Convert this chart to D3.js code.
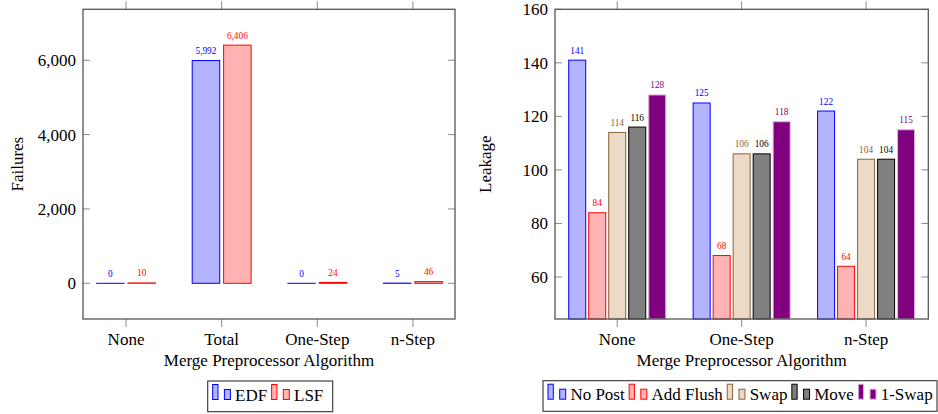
<!DOCTYPE html>
<html>
<head>
<meta charset="utf-8">
<script src="https://cdn.jsdelivr.net/npm/d3@7"></script>
<style>
  body { margin: 0; background: #fff; }
  svg text { font-family: "Liberation Serif", "Times New Roman", serif; }
</style>
</head>
<body>
<svg id="chart" width="938" height="414"></svg>
<script>
// Failures chart data
const failCategories = ["None", "Total", "One-Step", "n-Step"];
const edfFailures = [0, 5992, 0, 5];
const lsfFailures = [10, 6406, 24, 46];
const failTicks = [0, 2000, 4000, 6000];

// Leakage chart data
const leakCategories = ["None", "One-Step", "n-Step"];
const leakSeriesNames = ["No Post", "Add Flush", "Swap", "Move", "1-Swap"];
const noPost = [141, 125, 122];
const addFlush = [84, 68, 64];
const swap = [114, 106, 104];
const move = [116, 106, 104];
const oneSwap = [128, 118, 115];
const leakTicks = [60, 80, 100, 120, 140, 160];

const svg = d3.select("#chart");
const fmt = d3.format(",");
const tickFont = 17;
const labelFont = 9.3;

/* styles for each series (fill, stroke, label colour) */
const failStyles = [
  { name: "EDF", fill: "#b3b3ff", stroke: "#0000ff", text: "#0000ff" },
  { name: "LSF", fill: "#ffb3b3", stroke: "#ff0000", text: "#ff0000" }
];
const leakStyles = [
  { fill: "#b3b3ff", stroke: "#0000ff", text: "#0000ff" },
  { fill: "#ffb3b3", stroke: "#ff0000", text: "#ff0000" },
  { fill: "#ecd9c6", stroke: "#8c6239", text: "#8c6239" },
  { fill: "#808080", stroke: "#000000", text: "#000000" },
  { fill: "#800080", stroke: "#d9b3d9", text: "#800080" }
];

// Draw one framed axis box with ticks (x ticks outside, y ticks inside)
function drawFrame(g, x, y, xTicks, xLabels, yTicks, yFmt, yTitle, yTitleX) {
  const [x0, x1] = x.range();
  const [y0, y1] = y.range();

  // x ticks top and bottom (outside)
  xTicks.forEach((t, i) => {
    g.append("line").attr("x1", x(t)).attr("x2", x(t)).attr("y1", y0).attr("y2", y0 + 8)
      .attr("stroke", "#8a8a8a").attr("stroke-width", 1);
    g.append("line").attr("x1", x(t)).attr("x2", x(t)).attr("y1", y1).attr("y2", y1 - 8)
      .attr("stroke", "#8a8a8a").attr("stroke-width", 1);
    g.append("text").attr("x", x(t)).attr("y", 344.5).attr("text-anchor", "middle")
      .attr("font-size", tickFont).text(xLabels[i]);
  });

  // y ticks left and right (inside)
  yTicks.forEach(t => {
    g.append("line").attr("x1", x0).attr("x2", x0 + 7).attr("y1", y(t)).attr("y2", y(t))
      .attr("stroke", "#8a8a8a").attr("stroke-width", 1);
    g.append("line").attr("x1", x1).attr("x2", x1 - 7).attr("y1", y(t)).attr("y2", y(t))
      .attr("stroke", "#8a8a8a").attr("stroke-width", 1);
    g.append("text").attr("x", x0 - 7).attr("y", y(t)).attr("dy", "0.35em")
      .attr("text-anchor", "end").attr("font-size", tickFont).text(yFmt(t));
  });

  // frame
  g.append("rect").attr("x", x0).attr("y", y1).attr("width", x1 - x0).attr("height", y0 - y1)
    .attr("fill", "none").attr("stroke", "#555").attr("stroke-width", 1.3);

  // titles
  g.append("text").attr("x", (x0 + x1) / 2).attr("y", 366).attr("text-anchor", "middle")
    .attr("font-size", tickFont).text("Merge Preprocessor Algorithm");
  g.append("text")
    .attr("transform", `translate(${yTitleX},${(y0 + y1) / 2}) rotate(-90)`)
    .attr("text-anchor", "middle").attr("font-size", tickFont).text(yTitle);
}

// Draw grouped bars with value labels
function drawBars(g, x, y, series, styles, offsets, barW, base) {
  series.forEach((vals, s) => {
    const st = styles[s];
    vals.forEach((v, i) => {
      const cx = x(i) + offsets[s];
      const top = y(v);
      const h = Math.max(base - top, 0.01);
      g.append("rect")
        .attr("x", cx - barW / 2).attr("y", base - h)
        .attr("width", barW).attr("height", h)
        .attr("fill", st.fill).attr("stroke", st.stroke).attr("stroke-width", 1);
      g.append("text")
        .attr("x", cx).attr("y", top - 6.5).attr("text-anchor", "middle")
        .attr("font-size", labelFont).attr("fill", st.text).text(fmt(v));
    });
  });
}

// Legend in a box, pgfplots ybar style markers
function drawLegend(g, boxX, boxY, boxW, boxH, items) {
  g.append("rect").attr("x", boxX).attr("y", boxY).attr("width", boxW).attr("height", boxH)
    .attr("fill", "#fff").attr("stroke", "#333").attr("stroke-width", 1.1);
  let cx = boxX + 5;
  const base = boxY + 18.5;
  items.forEach(it => {
    g.append("rect").attr("x", cx).attr("y", base - 15).attr("width", 5.3).attr("height", 15)
      .attr("fill", it.fill).attr("stroke", it.stroke).attr("stroke-width", 1);
    g.append("rect").attr("x", cx + 11.7).attr("y", base - 10).attr("width", 6).attr("height", 10)
      .attr("fill", it.fill).attr("stroke", it.stroke).attr("stroke-width", 1);
    const t = g.append("text").attr("x", cx + 22.4).attr("y", base + 1)
      .attr("font-size", tickFont).text(it.name);
    cx += 22.4 + t.node().getComputedTextLength() + 4.4;
  });
}

/* LEFT: Failures */
const gL = svg.append("g");
const xL = d3.scaleLinear().domain([-0.45, failCategories.length - 1 + 0.44]).range([83, 455]);
const yL = d3.scaleLinear().domain([-960, 7370]).range([319, 9.3]);
drawBars(gL, xL, yL, [edfFailures, lsfFailures], failStyles, [-15.7, 15.7], 27.5, yL(0));
drawFrame(gL, xL, yL, failCategories.map((d, i) => i), failCategories, failTicks, fmt, "Failures", 23);
drawLegend(gL, 207.7, 381, 125, 30.7, failStyles);

/* RIGHT: Leakage */
const gR = svg.append("g");
const xR = d3.scaleLinear().domain([-0.5, leakCategories.length - 0.5]).range([555, 928.3]);
const yR = d3.scaleLinear().domain([44.3, 160]).range([319, 9.3]);
drawBars(gR, xR, yR, [noPost, addFlush, swap, move, oneSwap], leakStyles,
  [-40, -20, 0, 20, 40], 17, yR(44.3));
drawFrame(gR, xR, yR, leakCategories.map((d, i) => i), leakCategories, leakTicks, d => d, "Leakage", 491);
drawLegend(gR, 543, 380.7, 394, 30.6,
  leakSeriesNames.map((n, i) => Object.assign({ name: n }, leakStyles[i])));
</script>
</body>
</html>
